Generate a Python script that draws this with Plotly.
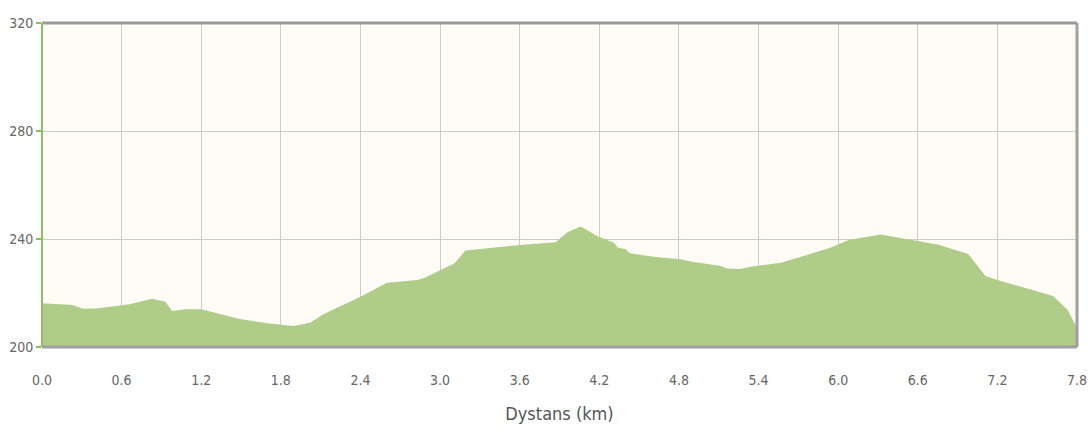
import plotly.graph_objects as go

distance_km = [0.0, 0.23, 0.31, 0.41, 0.66, 0.83, 0.93, 0.98, 1.08, 1.20, 1.49, 1.70, 1.90, 2.02,
               2.12, 2.40, 2.60, 2.83, 2.89, 3.00, 3.11, 3.19, 3.60, 3.87, 3.96, 4.06, 4.19,
               4.31, 4.34, 4.40, 4.43, 4.61, 4.81, 4.91, 5.11, 5.16, 5.26, 5.34, 5.57, 5.74,
               5.94, 6.08, 6.32, 6.60, 6.75, 6.98, 7.11, 7.20, 7.62, 7.73, 7.79, 7.80]
elevation_m = [216.2, 215.6, 214.2, 214.3, 215.8, 217.9, 216.8, 213.3, 214.0, 214.0, 210.4, 208.8,
               207.8, 209.0, 212.1, 218.6, 223.8, 224.8, 225.7, 228.5, 231.0, 235.7, 237.8, 238.8,
               242.5, 244.6, 240.9, 238.6, 236.8, 236.2, 234.7, 233.4, 232.5, 231.5, 230.1, 229.1,
               228.9, 229.7, 231.2, 233.7, 236.8, 239.6, 241.7, 239.3, 238.0, 234.4, 226.3, 224.8,
               218.9, 213.7, 208.1, 206.0]
x_ticks = [0.0, 0.6, 1.2, 1.8, 2.4, 3.0, 3.6, 4.2, 4.8, 5.4, 6.0, 6.6, 7.2, 7.8]
y_ticks = [200, 240, 280, 320]
x_title = "Dystans (km)"

font_family = "DejaVu Sans Condensed, Liberation Sans Narrow, sans-serif"

fig = go.Figure()
fig.add_trace(go.Scatter(
    x=distance_km, y=elevation_m, mode="lines",
    line=dict(color="#afcc88", width=0),
    fill="tozeroy", fillcolor="#afcc88",
    hoverinfo="x+y", showlegend=False,
))

fig.update_layout(
    width=1088, height=436,
    margin=dict(l=42, r=11, t=23, b=89),
    paper_bgcolor="white",
    plot_bgcolor="#fefcf5",
    font=dict(family=font_family, color="#666666", size=13),
    xaxis=dict(
        range=[0, 7.8], tickvals=x_ticks, ticktext=[f"{v:.1f}" for v in x_ticks],
        showgrid=True, gridcolor="#cccccc", gridwidth=1, zeroline=False,
        showline=False, ticks="outside", ticklen=20, tickcolor="rgba(0,0,0,0)",
        automargin=False,
        title=dict(text=x_title, font=dict(size=18, color="#555555"), standoff=20),
        tickfont=dict(size=14, color="#666666"),
    ),
    yaxis=dict(
        range=[200, 320], tickvals=y_ticks,
        showgrid=True, gridcolor="#cccccc", gridwidth=1, zeroline=False,
        showline=False, ticks="outside", ticklen=5, tickcolor="#8cc063", tickwidth=2,
        automargin=False,
        tickfont=dict(size=14, color="#666666"),
    ),
    shapes=[
        dict(type="line", xref="paper", yref="paper", x0=0, x1=1, y0=1, y1=1,
             line=dict(color="#999999", width=3)),
        dict(type="line", xref="paper", yref="paper", x0=1, x1=1, y0=0, y1=1,
             line=dict(color="#a0a0a0", width=3)),
        dict(type="line", xref="paper", yref="paper", x0=0, x1=1, y0=0, y1=0,
             line=dict(color="#a0a0a0", width=3)),
        dict(type="line", xref="paper", yref="paper", x0=0, x1=0, y0=0, y1=1,
             line=dict(color="#8cc063", width=2)),
    ],
)

fig.write_html("out.html", config={"displayModeBar": False},
               post_script="document.body.style.margin='0';")
